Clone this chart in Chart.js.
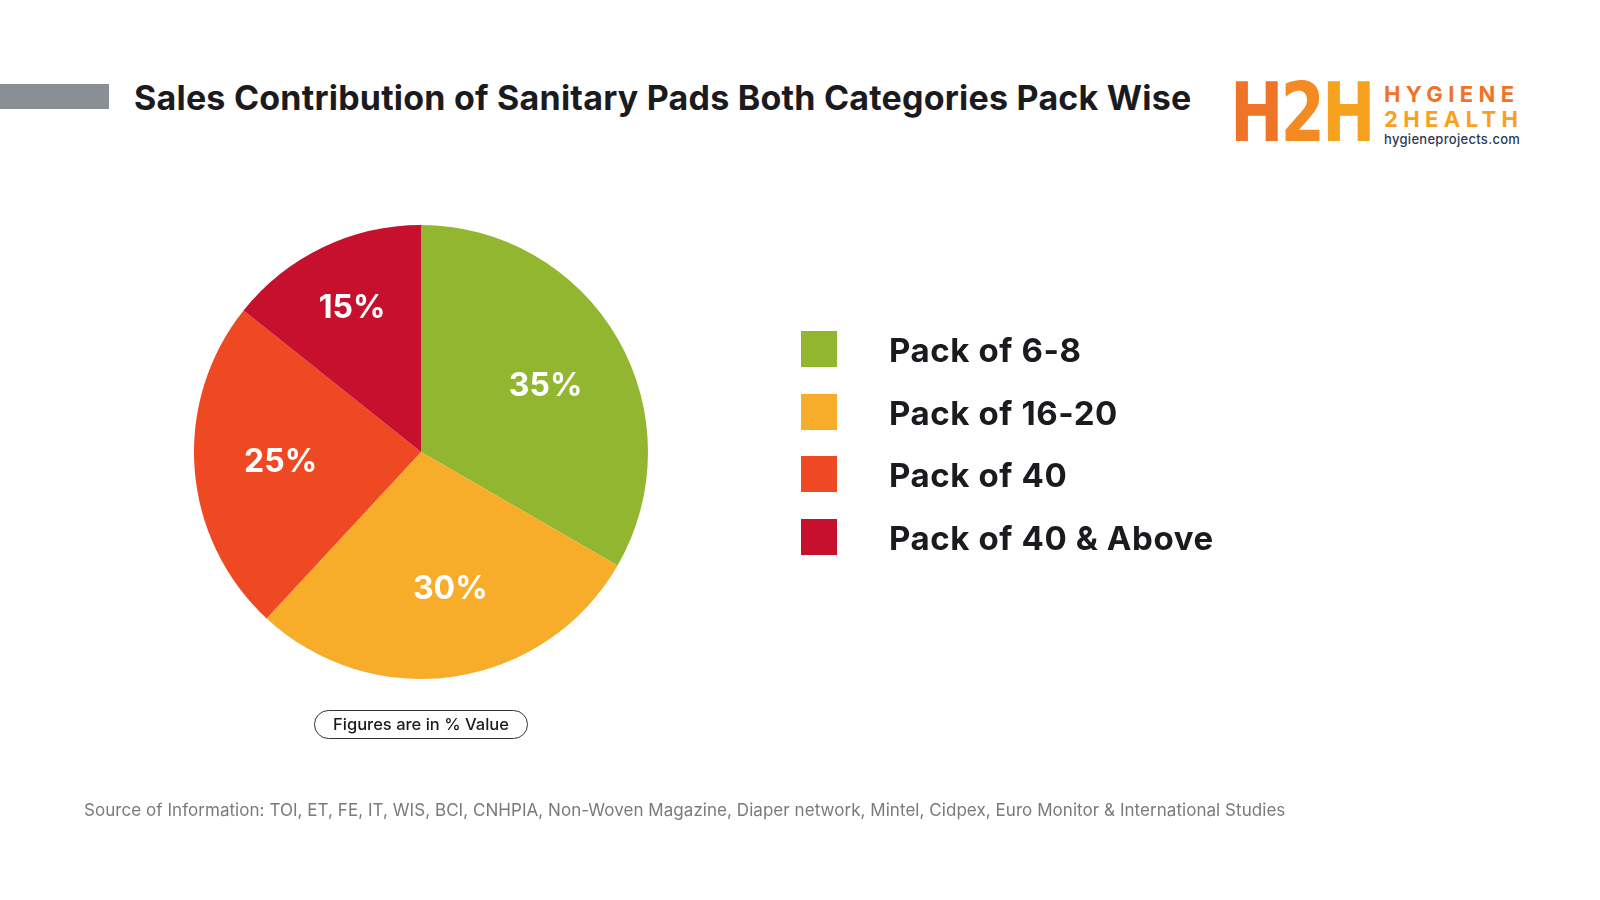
<!DOCTYPE html>
<html>
<head>
<meta charset="utf-8">
<script src="https://cdn.jsdelivr.net/npm/chart.js@4.4.1/dist/chart.umd.min.js"></script>
<style>
    html, body { margin: 0; padding: 0; background: #fff; }
    body { width: 1600px; height: 900px; position: relative; overflow: hidden; font-family: "Inter", "Open Sans", sans-serif; }
    #pieWrap { position: absolute; left: 0; top: 0; width: 1600px; height: 900px; }
    .bar { position: absolute; left: 0; top: 84px; width: 109px; height: 25px; background: #8a8f96; }
    .title { position: absolute; left: 134px; top: 77px; font-size: 34px; font-weight: 700; color: #1b1b1f; letter-spacing: 0.22px; white-space: nowrap; }
    .logo { position: absolute; left: 1230px; top: 80px; width: 300px; height: 70px; }
    .logo .mark { position: absolute; left: 0; top: -8px; font-size: 64px; font-weight: 900; letter-spacing: -3px; line-height: 64px; font-family: "DejaVu Sans", sans-serif; transform: scaleY(1.28); transform-origin: 0 0; }
    .logo .l1 { position: absolute; left: 154px; top: 3px; font-size: 22px; font-weight: 700; color: #f07428; letter-spacing: 5.4px; line-height: 22px; }
    .logo .l2 { position: absolute; left: 154px; top: 28px; font-size: 22px; font-weight: 700; color: #f6a21e; letter-spacing: 5.4px; line-height: 22px; }
    .logo .l3 { position: absolute; left: 154px; top: 52px; font-size: 13px; font-weight: 500; color: #2c3a5a; line-height: 14px; letter-spacing: 0.3px; }
    #legend { position: absolute; left: 801px; top: 331px; }
    .lg-row { position: relative; height: 62.5px; }
    .lg-box { position: absolute; left: 0; top: 0; width: 36px; height: 36px; }
    .lg-text { position: absolute; left: 88px; top: -3px; font-size: 33px; font-weight: 700; color: #1b1b1f; white-space: nowrap; line-height: 44px; letter-spacing: 0.6px; }
    .pill { position: absolute; left: 314px; top: 710px; width: 212px; height: 27px; border: 1.5px solid #333; border-radius: 15px; text-align: center; font-size: 16.5px; font-weight: 500; line-height: 27px; color: #1b1b1f; }
    .source { position: absolute; left: 84px; top: 800px; font-size: 17px; color: #7a7a7a; white-space: nowrap; letter-spacing: 0.05px; }
</style>
</head>
<body>
<div class="bar"></div>
<div class="title" id="chartTitle"></div>
<div class="logo">
    <div class="mark"><span style="color:#f07428">H</span><span style="color:#f38a22">2</span><span style="color:#f6a21e">H</span></div>
    <div class="l1">HYGIENE</div>
    <div class="l2">2HEALTH</div>
    <div class="l3">hygieneprojects.com</div>
</div>
<div id="pieWrap"><canvas id="packChart" width="1600" height="900"></canvas></div>
<div id="legend"></div>
<div class="pill">Figures are in % Value</div>
<div class="source" id="sourceNote"></div>

<script>
const chartTitle = 'Sales Contribution of Sanitary Pads Both Categories Pack Wise';
const sourceNote = 'Source of Information: TOI, ET, FE, IT, WIS, BCI, CNHPIA, Non-Woven Magazine, Diaper network, Mintel, Cidpex, Euro Monitor & International Studies';

const packLabels = ['Pack of 6-8', 'Pack of 16-20', 'Pack of 40', 'Pack of 40 & Above'];
const packShares = [35, 30, 25, 15];
const packColors = ['#92b630', '#f7ad2a', '#ef4923', '#c70f2e'];

document.getElementById('chartTitle').textContent = chartTitle;
document.getElementById('sourceNote').textContent = sourceNote;

// html legend built from the same arrays
const legendEl = document.getElementById('legend');
packLabels.forEach(function (label, i) {
    const row = document.createElement('div');
    row.className = 'lg-row';
    row.innerHTML = '<div class="lg-box" style="background:' + packColors[i] + '"></div>' +
        '<div class="lg-text">' + label.replace('&', '&amp;') + '</div>';
    legendEl.appendChild(row);
});

// percentage labels inside slices
const sliceLabels = {
    id: 'sliceLabels',
    afterDatasetsDraw: function (chart) {
        const ctx = chart.ctx;
        const meta = chart.getDatasetMeta(0);
        ctx.save();
        ctx.fillStyle = '#ffffff';
        ctx.font = '700 32px Inter, "Open Sans", sans-serif';
        ctx.textAlign = 'center';
        ctx.textBaseline = 'middle';
        meta.data.forEach(function (arc, i) {
            const p = arc.getProps(['x', 'y', 'startAngle', 'endAngle', 'outerRadius']);
            // nudge a bit off the bisector like the original layout
            const mid = (p.startAngle + p.endAngle) / 2 + (i === 1 ? -0.06 : i === 0 ? 0.04 : 0);
            const r = p.outerRadius * (packShares[i] < 20 ? 0.7 : 0.62);
            ctx.fillText(packShares[i] + '%', p.x + Math.cos(mid) * r, p.y + Math.sin(mid) * r);
        });
        ctx.restore();
    }
};

const ctx = document.getElementById('packChart').getContext('2d');
window.packChart = new Chart(ctx, {
    type: 'pie',
    data: {
        labels: packLabels,
        datasets: [{
            data: packShares,
            backgroundColor: packColors,
            borderWidth: 0
        }]
    },
    options: {
        responsive: false,
        animation: false,
        layout: {
            padding: { left: 194, right: 952, top: 225, bottom: 221 }
        },
        plugins: {
            legend: { display: false },
            tooltip: { enabled: false }
        }
    },
    plugins: [sliceLabels]
});
</script>
</body>
</html>
